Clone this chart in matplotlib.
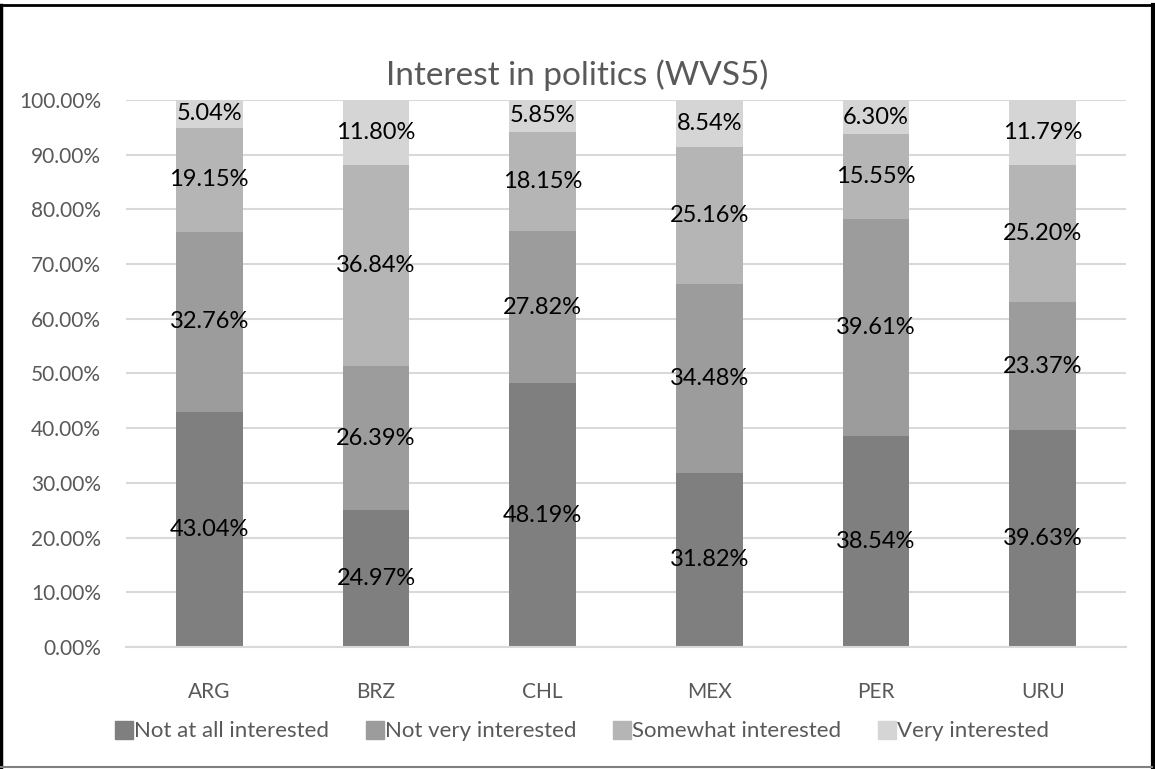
import numpy as np
import matplotlib.pyplot as plt
from matplotlib.lines import Line2D
from matplotlib.ticker import FuncFormatter

plt.rcParams['font.family'] = ['Lato', 'DejaVu Sans']

countries = ['ARG', 'BRZ', 'CHL', 'MEX', 'PER', 'URU']
levels = ['Not at all interested', 'Not very interested',
          'Somewhat interested', 'Very interested']

not_at_all = [43.04, 24.97, 48.19, 31.82, 38.54, 39.63]
not_very = [32.76, 26.39, 27.82, 34.48, 39.61, 23.37]
somewhat = [19.15, 36.84, 18.15, 25.16, 15.55, 25.20]
very = [5.04, 11.80, 5.85, 8.54, 6.30, 11.79]

series = [not_at_all, not_very, somewhat, very]
colors = ['#7f7f7f', '#9c9c9c', '#b5b5b5', '#d5d5d5']

fig = plt.figure(figsize=(11.55, 7.69), dpi=100)
ax = fig.add_axes([0.109, 0.1587, 0.866, 0.7113])

x = np.arange(len(countries))
bottom = np.zeros(len(countries))
for vals, col, name in zip(series, colors, levels):
    vals = np.array(vals)
    ax.bar(x, vals, width=0.4, bottom=bottom, color=col, label=name, zorder=2)
    for xi, b, v in zip(x, bottom, vals):
        ax.text(xi, b + v / 2, f'{v:.2f}%', ha='center', va='center',
                fontsize=17, color='#000000', zorder=3)
    bottom += vals

ax.set_xlim(-0.5, len(countries) - 0.5)
ax.set_ylim(0, 100)
ax.set_yticks(np.arange(0, 101, 10))
ax.yaxis.set_major_formatter(FuncFormatter(lambda v, p: f'{v:.2f}%'))
ax.set_xticks(x)
ax.set_xticklabels(countries)
ax.tick_params(axis='both', length=0, labelsize=15, labelcolor='#595959')
ax.tick_params(axis='x', pad=25)
ax.tick_params(axis='y', pad=18)
ax.grid(axis='y', color='#d9d9d9', linewidth=1.5, zorder=0)
for side in ['top', 'right', 'left']:
    ax.spines[side].set_visible(False)
ax.spines['bottom'].set_color('#d9d9d9')
ax.spines['bottom'].set_linewidth(1.5)

fig.text(0.5, 0.902, 'Interest in politics (WVS5)', ha='center', va='center',
         fontsize=24, color='#595959')

handles = [Line2D([], [], marker='s', linestyle='none', markersize=13,
                  markerfacecolor=c, markeredgecolor=c) for c in colors]
fig.legend(handles, levels, loc='center', bbox_to_anchor=(0.505, 0.049),
           ncol=4, frameon=False, fontsize=16, labelcolor='#595959',
           handlelength=0.6, handletextpad=0.15, columnspacing=1.75)

# frame around the figure
fig.add_artist(Line2D([0.001, 0.001], [0, 0.994], color='black', linewidth=2.5,
                      transform=fig.transFigure))
fig.add_artist(Line2D([0.9985, 0.9985], [0, 0.994], color='black', linewidth=3,
                      transform=fig.transFigure))
fig.add_artist(Line2D([0, 1], [0.994, 0.994], color='black', linewidth=2,
                      transform=fig.transFigure))
fig.add_artist(Line2D([0, 0.997], [0.003, 0.003], color='#808080', linewidth=1.5,
                      transform=fig.transFigure))

fig.savefig('out.png', dpi=100)
